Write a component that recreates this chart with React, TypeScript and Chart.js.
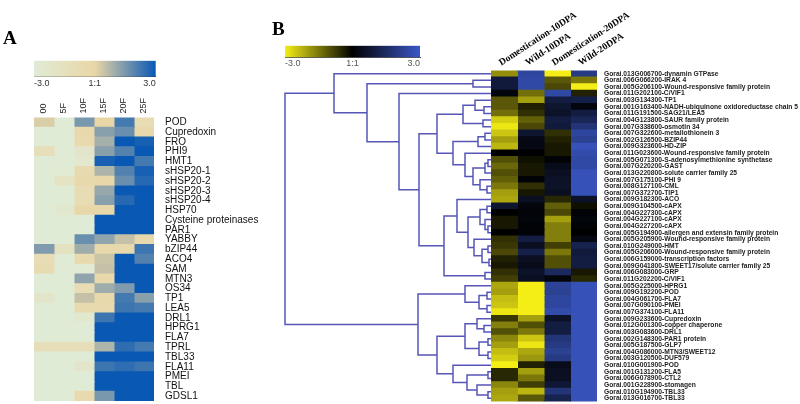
import React, { useEffect, useRef } from 'react';
import { Chart, registerables } from 'chart.js';

Chart.register(...registerables);
Chart.defaults.font.family = "'Liberation Sans', Arial, sans-serif";

// ---------------- Panel A data ----------------
const colsA = ['00', '5F', '10F', '15F', '20F', '25F'];
const genesA = ['POD', 'Cupredoxin', 'FRO', 'PHI9', 'HMT1', 'sHSP20-1', 'sHSP20-2', 'sHSP20-3', 'sHSP20-4', 'HSP70',
  'Cysteine proteinases', 'PAR1', 'YABBY', 'bZIP44', 'ACO4', 'SAM', 'MTN3', 'OS34', 'TP1', 'LEA5',
  'DRL1', 'HPRG1', 'FLA7', 'TPRL', 'TBL33', 'FLA11', 'PMEI', 'TBL', 'GDSL1'];
const A_00 = [0.2, -3, -3, -1.1, -3, -3, -3, -3, -3, -3, -3, -3, -3, 1.4, -0.8, -0.7, -3, -3, -2.2, -3, -3, -3, -3, -1.2, -3, -3, -3, -3, -3];
const A_5F = [-3, -3, -3, -3, -3, -2.8, -1.8, -3, -3, -2.5, -3, -3, -3, -1.6, -3, -3, -3, -3, -3, -3, -3, -3, -3, -1.2, -3, -3, -3, -3, -3];
const A_10F = [1.5, -0.3, -0.5, -2.2, -2.5, -0.6, -0.4, -0.8, -0.8, -0.2, -3, -3, 1.7, 1.0, -0.5, -2.8, 1.2, -0.8, 0.5, -0.6, -2.5, -3, -3, -1.2, -3, -2.2, -3, -3, -0.5];
const A_15F = [0, 1.3, 0.9, 1.3, 2.8, 0.8, -0.2, 1.1, 1.3, -0.2, 3, 3, 1.2, -0.4, 0.4, 0.5, -0.4, 1.0, -0.3, -0.5, 2.3, 3, 3, 0.8, 3, 2.3, 3, 3, 1.5];
const A_20F = [2.2, 1.7, 3, 2.0, 3, 2.0, 1.7, 3, 2.6, 3, 3, 3, 0.5, -0.4, 3, 3, 3, 1.4, 2.2, 2.3, 3, 3, 3, 2.5, 3, 2.5, 3, 3, 3];
const A_25F = [-0.8, -0.3, 2.8, 3, 2.2, 2.8, 2.6, 3, 3, 3, 3, 3, -0.3, 2.3, 2.0, 3, 3, 3, 1.3, 2.2, 3, 3, 3, 2.2, 3, 2.3, 3, 3, 3];
const columnsA = [A_00, A_5F, A_10F, A_15F, A_20F, A_25F];

// ---------------- Panel B data ----------------
const colsB = ['Domestication-10DPA', 'Wild-10DPA', 'Domestication-20DPA', 'Wild-20DPA'];
const genesB = [
  'Gorai.013G006700-dynamin GTPase', 'Gorai.006G066200-IRAK 4', 'Gorai.005G206100-Wound-responsive family protein',
  'Gorai.011G202100-C/VIF1', 'Gorai.003G134300-TP1', 'Gorai.001G163400-NADH-ubiquinone oxidoreductase chain 5',
  'Gorai.011G191500-SAG21/LEA5', 'Gorai.004G123800-SAUR family protein', 'Gorai.007G338600-osmotin 34',
  'Gorai.007G322600-metallothionein 3', 'Gorai.002G126500-BZIP44', 'Gorai.009G323600-HD-ZIP',
  'Gorai.011G023600-Wound-responsive family protein', 'Gorai.005G071300-S-adenosylmethionine synthetase',
  'Gorai.007G220200-GAST', 'Gorai.013G220800-solute carrier family 25', 'Gorai.007G175100-PHI 9',
  'Gorai.008G127100-CML', 'Gorai.007G372700-TIP1', 'Gorai.009G182300-ACO', 'Gorai.009G104500-cAPX',
  'Gorai.004G227300-cAPX', 'Gorai.004G227100-cAPX', 'Gorai.004G227200-cAPX',
  'Gorai.005G194900-allergen and extensin family protein', 'Gorai.005G205900-Wound-responsive family protein',
  'Gorai.010G249000-HMT', 'Gorai.005G206000-Wound-responsive family protein', 'Gorai.006G159000-transcription factors',
  'Gorai.009G041800-SWEET17/solute carrier family 25', 'Gorai.006G083000-GRP', 'Gorai.011G202200-C/VIF1',
  'Gorai.005G225000-HPRG1', 'Gorai.009G192200-POD', 'Gorai.004G061700-FLA7', 'Gorai.007G090100-PMEI',
  'Gorai.007G374100-FLA11', 'Gorai.009G233600-Cupredoxin', 'Gorai.012G001300-copper chaperone',
  'Gorai.003G083600-DRL1', 'Gorai.002G148300-PAR1 protein', 'Gorai.005G187500-GLP7',
  'Gorai.004G086000-MTN3/SWEET12', 'Gorai.003G120500-DUF579', 'Gorai.010G001900-POD', 'Gorai.001G131200-FLA5',
  'Gorai.006G078900-CTL2', 'Gorai.001G228900-stomagen', 'Gorai.010G194900-TBL33', 'Gorai.013G016700-TBL33'];
const B_D10 = [-1.8, 0.9, 0.9, 0.2, -1.1, -1.1, -1.4, -2.6, -2.9, -2.5, -2.0, -2.3, 0, -1.0, -1.3, -1.0, -1.2, -1.5, -2.0, -2.1,
  0.7, 0, -0.3, -0.3, 0, -0.6, -0.7, -0.9, -0.4, -0.3, -0.6, -0.8, -2.1, -2.0, -2.4, -2.5, -2.9, -0.7, -1.6, -1.0,
  -1.7, -2.0, -2.4, -2.6, -3, -0.5, -0.5, -1.7, -2.0, -2.1];
const B_W10 = [2.4, 2.5, 2.5, -1.4, -2.0, -0.4, -0.6, -1.2, -0.9, 0.7, 0.3, 0.3, 0.05, -0.2, -0.3, -0.3, 0.1, -0.6, -0.3, 0.5,
  0.2, 0.15, 0.2, 0.1, 0.1, 1.0, 0.5, 1.1, 0.5, 0.4, 0.6, 0.5, -3, -3, -3, -3, -3, -2.0, -1.0, -1.5,
  -2.5, -2.9, -2.1, -1.9, -0.4, -2.0, -1.5, -0.8, -2.3, -1.1];
const B_D20 = [-3, -1.1, -0.9, 2.5, 1.0, 0.7, 0.6, 1.0, 0.9, -0.6, -0.4, -0.3, -0.3, 0.1, 0.4, 0.5, 0.6, 0.6, 0.5, -0.5,
  -1.2, -0.9, -2.0, -1.6, -1.6, -1.6, -0.8, -1.5, -1.0, -1.0, 1.4, 0.2, 2.3, 2.2, 2.4, 2.4, 2.6, 0.6, 1.0, 1.0,
  1.8, 2.0, 2.2, 2.0, 0.4, 0.5, 0.5, 0.8, 1.8, 1.2];
const B_W20 = [2.0, -1.5, -3, -0.4, 1.1, 0.2, 1.0, 1.3, 1.8, 2.4, 2.2, 2.8, 2.6, 2.5, 2.5, 2.8, 2.8, 2.8, 2.8, 0.6,
  -0.2, 0.1, 0.2, 0.1, 0, 0.3, 1.2, 0.9, 1.0, 1.0, -0.3, -0.5, 2.8, 2.8, 2.8, 2.8, 2.8, 2.8, 2.8, 2.8,
  2.8, 2.8, 2.8, 2.8, 2.8, 2.8, 2.8, 2.8, 2.8, 2.8];
const columnsB = [B_D10, B_W10, B_D20, B_W20];

// Dendrogram (linkage list: left child, right child, merge height; ids >= 50 are earlier merges)
const mergeLeft = [5, 4, 7, 51, 9, 54, 13, 56, 17, 16, 57, 12, 55, 53, 20, 23, 22, 64, 26, 28, 68, 25, 67, 19, 30, 73, 63, 3, 1, 78, 0,
  33, 35, 81, 32, 38, 37, 40, 42, 87, 86, 45, 48, 47, 91, 44, 90, 84, 80];
const mergeRight = [6, 50, 8, 52, 10, 11, 14, 15, 18, 58, 59, 60, 61, 62, 21, 24, 65, 66, 27, 29, 69, 70, 71, 72, 31, 74, 75, 76, 2, 77, 79,
  34, 36, 82, 83, 39, 85, 41, 43, 88, 89, 46, 49, 92, 93, 94, 95, 96, 97];
const mergeHeight = [7, 16, 8, 28, 6, 13, 3, 6, 4, 11, 18, 26, 38, 54, 4, 3, 6, 11, 3, 2, 9, 17, 23, 34, 6, 47, 72, 92, 18, 124, 157,
  4, 4, 12, 26, 7, 14, 3, 3, 12, 26, 3, 3, 14, 24, 38, 54, 73, 206];

// Colour scales
const scaleRange = [-3, 3];
const scaleTickLabels = ['-3.0', '1:1', '3.0'];
const lowA = [224, 235, 214], midA = [233, 214, 166], highA = [8, 88, 180];
const lowB = [245, 238, 22], midB = [0, 0, 0], highB = [58, 88, 198];

function mix(a: number[], b: number[], t: number) {
  return a.map((v, i) => Math.round(v + (b[i] - v) * t));
}
function makeColor(low: number[], mid: number[], high: number[]) {
  return (v: number) => {
    const t = Math.max(-1, Math.min(1, v / 3));
    const c = t < 0 ? mix(mid, low, -t) : mix(mid, high, t);
    return `rgb(${c[0]},${c[1]},${c[2]})`;
  };
}
const colorA = makeColor(lowA, midA, highA);
const colorB = makeColor(lowB, midB, highB);

const W = 800, H = 404;

function zeroPad(s: any) {
  s.paddingLeft = 0; s.paddingRight = 0; s.paddingTop = 0; s.paddingBottom = 0;
}

function heatmapConfig(rows: string[], heads: string[], columns: number[][], colorFn: (v: number) => string, g: any): any {
  return {
    type: 'bar',
    data: {
      labels: rows,
      datasets: columns.map((col, j) => ({
        data: col.map(() => [j, j + 1]),
        backgroundColor: col.map(colorFn),
        borderWidth: 0,
        inflateAmount: 0.5,
        grouped: false,
        barPercentage: 1,
        categoryPercentage: 1,
      })),
    },
    options: {
      indexAxis: 'y',
      responsive: false,
      animation: false,
      events: [],
      layout: { padding: { left: g.left, top: 0, right: 0, bottom: H - g.bottom } },
      plugins: { legend: { display: false }, tooltip: { enabled: false } },
      scales: {
        x: { type: 'linear', min: 0, max: columns.length, display: false },
        y: {
          type: 'category', position: 'right', offset: true,
          grid: { display: false, drawTicks: false }, border: { display: false },
          ticks: { autoSkip: false, padding: g.labelPad, font: g.rowFont, color: g.rowColor },
          afterFit: (s: any) => { s.width = W - g.right; zeroPad(s); },
        },
        x2: {
          type: 'category', labels: heads, position: 'top', offset: true,
          grid: { display: false, drawTicks: false }, border: { display: false },
          ticks: {
            autoSkip: false, minRotation: g.rot, maxRotation: g.rot, padding: g.headPad, labelOffset: g.headShift,
            font: g.headFont, color: g.headColor,
          },
          afterFit: (s: any) => { s.height = g.top; zeroPad(s); },
        },
      },
    },
  };
}

function colorbarConfig(colorFn: (v: number) => string, g: any): any {
  return {
    type: 'bar',
    data: {
      labels: [''],
      datasets: [{
        data: [[scaleRange[0], scaleRange[1]]],
        backgroundColor: (ctx: any) => {
          const area = ctx.chart.chartArea;
          if (!area) return colorFn(0);
          const grad = ctx.chart.ctx.createLinearGradient(area.left, 0, area.right, 0);
          for (let k = 0; k <= 24; k++) {
            const v = scaleRange[0] + (scaleRange[1] - scaleRange[0]) * k / 24;
            grad.addColorStop(k / 24, colorFn(v));
          }
          return grad;
        },
        borderWidth: 0,
        barPercentage: 1,
        categoryPercentage: 1,
      }],
    },
    options: {
      indexAxis: 'y',
      responsive: false,
      animation: false,
      events: [],
      layout: { padding: { left: g.left, right: W - g.right, top: g.top, bottom: H - g.bottom - 20 } },
      plugins: { legend: { display: false }, tooltip: { enabled: false } },
      scales: {
        y: { display: false },
        x: {
          type: 'linear', min: scaleRange[0], max: scaleRange[1], position: 'bottom',
          grid: { display: false, drawTicks: false },
          border: { display: true, color: g.lineColor, width: 1 },
          ticks: {
            stepSize: 3, align: 'inner', padding: 1, font: { size: 9 }, color: g.tickColor,
            callback: (v: number) => scaleTickLabels[Math.round((v - scaleRange[0]) / 3)],
          },
          afterFit: (s: any) => { s.height = 20; zeroPad(s); },
        },
      },
    },
  };
}

function dendroConfig(): any {
  const n = genesB.length;
  const ys: number[] = [];
  const hs: number[] = [];
  for (let i = 0; i < n; i++) { ys[i] = i; hs[i] = 0; }
  mergeLeft.forEach((a, k) => {
    const b = mergeRight[k];
    ys[n + k] = (ys[a] + ys[b]) / 2;
    hs[n + k] = mergeHeight[k];
  });
  const datasets = mergeLeft.map((a, k) => {
    const b = mergeRight[k];
    const h = mergeHeight[k];
    return {
      data: [{ x: hs[a], y: ys[a] }, { x: h, y: ys[a] }, { x: h, y: ys[b] }, { x: hs[b], y: ys[b] }],
      showLine: true,
      borderColor: '#5656b8',
      borderWidth: 1.5,
      pointRadius: 0,
      tension: 0,
      fill: false,
      clip: 4,
    };
  });
  const maxH = Math.max(...mergeHeight);
  return {
    type: 'scatter',
    data: { datasets },
    options: {
      responsive: false,
      animation: false,
      events: [],
      layout: { padding: { left: 285, right: W - 491, top: 70.4, bottom: H - 401.6 } },
      plugins: { legend: { display: false }, tooltip: { enabled: false } },
      scales: {
        x: { type: 'linear', min: 0, max: maxH, reverse: true, display: false },
        y: { type: 'linear', min: -0.5, max: n - 0.5, reverse: true, display: false },
      },
    },
  };
}

export default function App() {
  const r1 = useRef<HTMLCanvasElement>(null);
  const r2 = useRef<HTMLCanvasElement>(null);
  const r3 = useRef<HTMLCanvasElement>(null);
  const r4 = useRef<HTMLCanvasElement>(null);
  const r5 = useRef<HTMLCanvasElement>(null);
  const refs = [r1, r2, r3, r4, r5];

  useEffect(() => {
    const charts = [
      new Chart(r1.current!, heatmapConfig(genesA, colsA, columnsA, colorA, {
        left: 34, right: 154, top: 117.5, bottom: 401, labelPad: 11, headPad: 4, rot: 90, headShift: 10.5,
        rowFont: { size: 10 }, rowColor: '#111', headFont: { size: 9 }, headColor: '#222',
      })),
      new Chart(r2.current!, colorbarConfig(colorA, { left: 34, right: 155.7, top: 60.7, bottom: 76.7, lineColor: '#333', tickColor: '#333' })),
      new Chart(r3.current!, heatmapConfig(genesB, colsB, columnsB, colorB, {
        left: 491, right: 597, top: 70.4, bottom: 401.6, labelPad: 7, headPad: 2, rot: 33, headShift: 2,
        rowFont: { size: 6.7, weight: 'bold' }, rowColor: '#222',
        headFont: { size: 9.6, weight: 'bold', family: "'Liberation Serif', 'Times New Roman', serif" }, headColor: '#000',
      })),
      new Chart(r4.current!, colorbarConfig(colorB, { left: 285, right: 420, top: 45.7, bottom: 57.3, lineColor: '#555', tickColor: '#555' })),
      new Chart(r5.current!, dendroConfig()),
    ];
    return () => charts.forEach((c) => c.destroy());
  }, []);

  const letter: React.CSSProperties = {
    position: 'absolute', fontFamily: "'Liberation Serif', 'Times New Roman', serif", fontWeight: 'bold',
    fontSize: 19, lineHeight: 1, color: '#000',
  };

  return (
    <div style={{ position: 'fixed', left: 0, top: 0, width: W, height: H, background: '#fff', overflow: 'hidden' }}>
      {refs.map((r, i) => (
        <canvas key={i} ref={r} width={W} height={H} style={{ position: 'absolute', left: 0, top: 0 }} />
      ))}
      <div style={{ ...letter, left: 3, top: 28 }}>A</div>
      <div style={{ ...letter, left: 272, top: 19 }}>B</div>
    </div>
  );
}
